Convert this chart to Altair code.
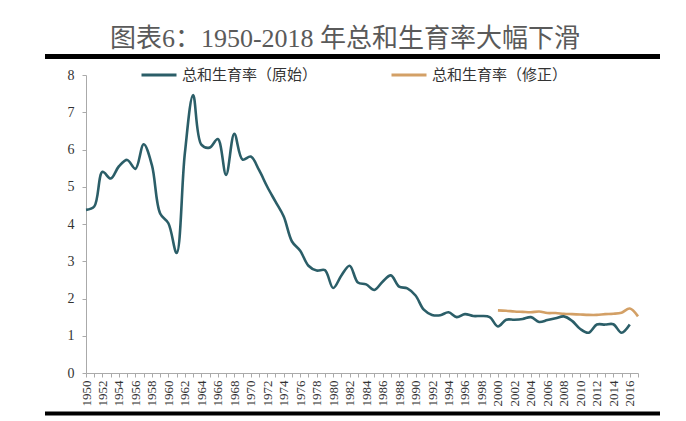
import altair as alt
import pandas as pd

years_orig = list(range(1950, 2017))
tfr_orig = [
    4.38, 4.47, 5.40, 5.22, 5.55, 5.72, 5.48, 6.14, 5.58, 4.28,   # 1950-1959
    4.02, 3.22, 5.90, 7.46, 6.13, 6.05, 6.28, 5.32, 6.42, 5.73,   # 1960-1969
    5.81, 5.45, 5.00, 4.60, 4.20, 3.53, 3.28, 2.88, 2.75, 2.76,   # 1970-1979
    2.28, 2.62, 2.88, 2.43, 2.38, 2.23, 2.45, 2.62, 2.32, 2.27,   # 1980-1989
    2.08, 1.70, 1.56, 1.55, 1.63, 1.50, 1.58, 1.53, 1.53, 1.50,   # 1990-1999
    1.25, 1.43, 1.43, 1.45, 1.50, 1.37, 1.42, 1.47, 1.52, 1.40,   # 2000-2009
    1.18, 1.08, 1.30, 1.30, 1.31, 1.08, 1.30,                     # 2010-2016
]
years_rev = list(range(2000, 2018))
tfr_rev = [
    1.68, 1.67, 1.65, 1.64, 1.63, 1.65, 1.61, 1.61, 1.59, 1.58,
    1.57, 1.56, 1.56, 1.58, 1.59, 1.62, 1.73, 1.52,
]
series_names = ["总和生育率（原始）", "总和生育率（修正）"]
series_colors = ["#2b5e68", "#d3a066"]
title_text = "图表6：1950-2018 年总和生育率大幅下滑"

df = pd.concat([
    pd.DataFrame({"year": years_orig, "value": tfr_orig, "series": series_names[0]}),
    pd.DataFrame({"year": years_rev, "value": tfr_rev, "series": series_names[1]}),
])

serif = "Liberation Serif, Noto Sans CJK SC"

lines = alt.Chart(df).mark_line(strokeWidth=2.6, interpolate="catmull-rom").encode(
    x=alt.X("year:Q",
            scale=alt.Scale(domain=[1950, 2017], nice=False, zero=False),
            axis=alt.Axis(values=list(range(1950, 2018)), format="d",
                          labelExpr="datum.value % 2 == 0 ? datum.label : ''",
                          labelAngle=-90, title=None, grid=False,
                          labelFont=serif, labelFontSize=13, labelColor="#333",
                          labelPadding=3, tickSize=4, tickColor="#aaa",
                          domainColor="#aaa", labelOverlap=False)),
    y=alt.Y("value:Q",
            scale=alt.Scale(domain=[0, 8], nice=False),
            axis=alt.Axis(values=list(range(0, 9)), title=None, grid=False,
                          labelFont=serif, labelFontSize=14, labelColor="#333",
                          labelPadding=8, tickSize=4, tickColor="#aaa",
                          domainColor="#aaa")),
    color=alt.Color("series:N",
                    scale=alt.Scale(domain=series_names, range=series_colors),
                    legend=alt.Legend(title=None, orient="none", direction="horizontal",
                                      legendX=54, legendY=-19,
                                      symbolType="stroke", symbolSize=1225,
                                      symbolStrokeWidth=3, labelFont="Noto Sans CJK SC",
                                      labelFontSize=15, labelColor="#333",
                                      labelOffset=4, columnPadding=67)),
)

top_bar = alt.Chart(pd.DataFrame({"k": [0]})).mark_rule(color="#000", strokeWidth=5).encode(
    x=alt.value(-41), x2=alt.value(574), y=alt.value(-18.5))
bottom_bar = alt.Chart(pd.DataFrame({"k": [0]})).mark_rule(color="#000", strokeWidth=4).encode(
    x=alt.value(-41), x2=alt.value(574), y=alt.value(338.5))

chart = alt.layer(lines, top_bar, bottom_bar).properties(
    width=552, height=298,
    title=alt.TitleParams(text=title_text, fontSize=26, font=serif, color="#5a5a5a",
                          fontWeight="normal", anchor="middle", frame="group",
                          dx=-17, dy=20, offset=22),
    autosize=alt.AutoSizeParams(type="none"),
    padding={"left": 86, "top": 75, "right": 48, "bottom": 48},
    background="white",
).configure_view(stroke=None)

chart.save("out.html", embed_options={"renderer": "svg", "actions": False})
